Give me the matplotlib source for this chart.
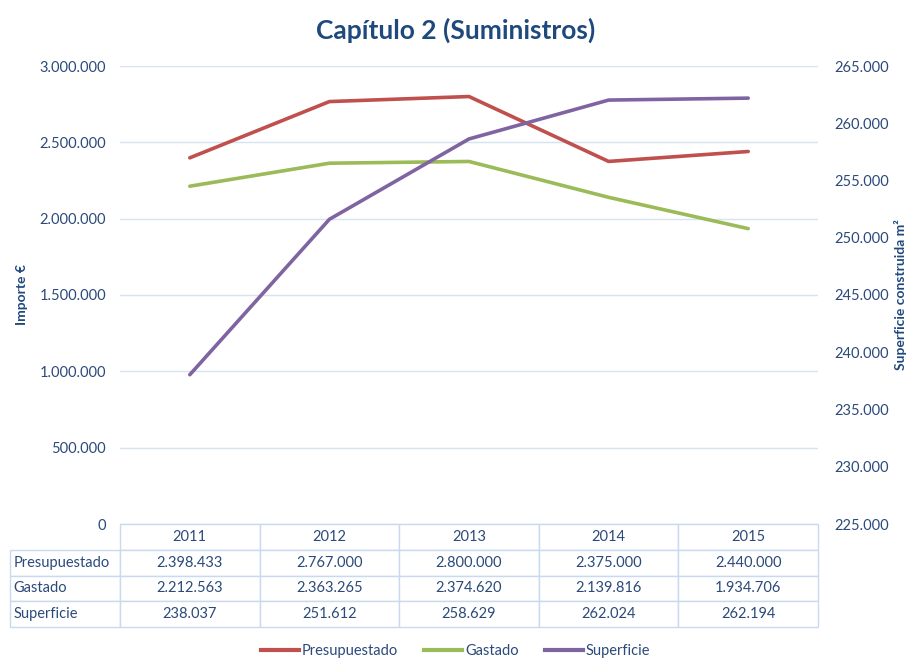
import numpy as np
import matplotlib.pyplot as plt
from matplotlib.ticker import FuncFormatter
from matplotlib.lines import Line2D

plt.rcParams['font.family'] = ['Lato', 'DejaVu Sans']

# data
years = ['2011', '2012', '2013', '2014', '2015']
presupuestado = [2398433, 2767000, 2800000, 2375000, 2440000]
gastado = [2212563, 2363265, 2374620, 2139816, 1934706]
superficie = [238037, 251612, 258629, 262024, 262194]
series_names = ['Presupuestado', 'Gastado', 'Superficie']

colors = ['#C0504D', '#9BBB59', '#8064A2']
text_col = '#2B4A7A'
title_col = '#1F497D'
grid_col = '#D6E3F3'
border_col = '#C9DAF0'


def miles(v, pos=None):
    # spanish style thousands separator
    return f'{int(round(v)):,}'.replace(',', '.')


fig = plt.figure(figsize=(9.11, 6.59), dpi=100)
W, H = 911, 659
x0, x1, ytop, ybot = 120, 818, 66, 524
ax = fig.add_axes([x0 / W, 1 - ybot / H, (x1 - x0) / W, (ybot - ytop) / H])
ax2 = ax.twinx()

x = np.arange(len(years))
ax.set_xlim(-0.5, len(years) - 0.5)
ax.set_ylim(0, 3000000)
ax.set_yticks(np.arange(0, 3000001, 500000))
ax.yaxis.set_major_formatter(FuncFormatter(miles))
ax2.set_ylim(225000, 265000)
ax2.set_yticks(np.arange(225000, 265001, 5000))
ax2.yaxis.set_major_formatter(FuncFormatter(miles))

ax.grid(axis='y', color=grid_col, linewidth=1)
ax.set_axisbelow(True)
for a in (ax, ax2):
    for s in a.spines.values():
        s.set_visible(False)
    a.tick_params(length=0, labelsize=10.5, labelcolor=text_col)
ax.tick_params(axis='y', pad=10)
ax2.tick_params(axis='y', pad=12)
ax.set_xticks([])

ax.plot(x, presupuestado, color=colors[0], lw=2.6, solid_capstyle='round', zorder=3)
ax.plot(x, gastado, color=colors[1], lw=2.6, solid_capstyle='round', zorder=3)
ax2.plot(x, superficie, color=colors[2], lw=2.6, solid_capstyle='round', zorder=3)

ax.set_ylabel('Importe €', color=title_col, fontsize=10, fontweight='bold', labelpad=8)
ax2.set_ylabel('Superficie construida m²', color=title_col, fontsize=10,
               fontweight='bold', labelpad=3)

fig.text(0.5, 1 - 30 / H, 'Capítulo 2 (Suministros)', ha='center', va='center',
         fontsize=19, fontweight='bold', color=title_col)

# data table under the plot
cells = [[''] + years]
for name, vals in zip(series_names, [presupuestado, gastado, superficie]):
    cells.append([name] + [miles(v) for v in vals])
tx0 = 10
tab_h = 627 - 524
tbl = ax.table(cellText=cells,
               colWidths=[x0 - tx0] + [(x1 - x0) / len(years)] * len(years),
               cellLoc='center',
               bbox=[(tx0 - x0) / (x1 - x0), -tab_h / (ybot - ytop),
                     (x1 - tx0) / (x1 - x0), tab_h / (ybot - ytop)])
tbl.auto_set_font_size(False)
for (r, c), cell in tbl.get_celld().items():
    cell.set_edgecolor(border_col)
    cell.set_linewidth(1)
    cell.set_fontsize(10.5)
    cell.get_text().set_color(text_col)
    if c == 0:
        cell.get_text().set_ha('left')
        cell.PAD = 0.03
    if r == 0 and c == 0:
        cell.set_edgecolor('none')

# legend
handles = [Line2D([], [], color=c, lw=3) for c in colors]
fig.legend(handles, series_names, loc='center', bbox_to_anchor=(0.5, 1 - 651 / H),
           ncol=3, frameon=False, fontsize=10.5, handlelength=2.6, handletextpad=0.2,
           columnspacing=1.8, labelcolor=text_col)

fig.savefig('out.png', dpi=100)
